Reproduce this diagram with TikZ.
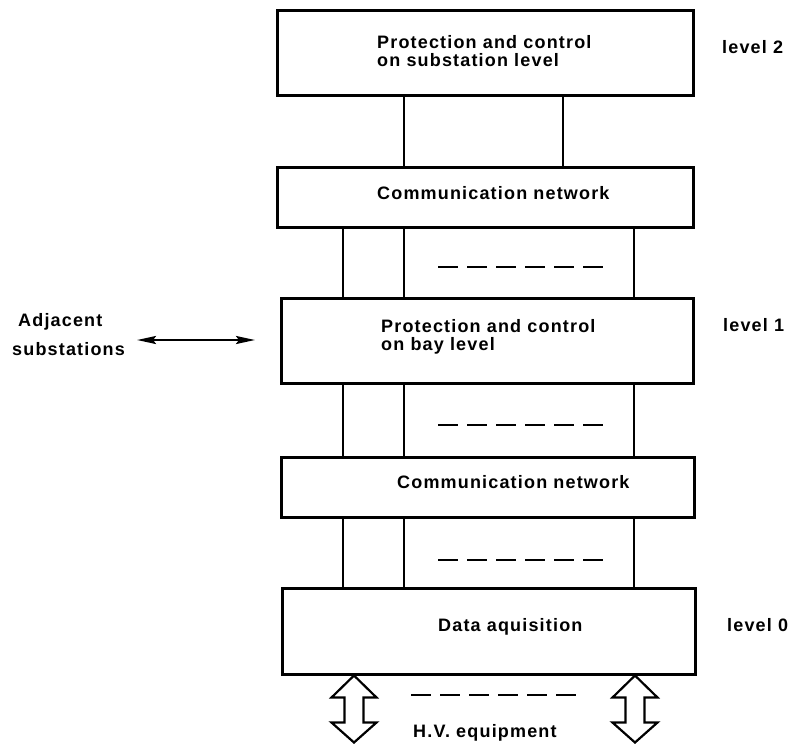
\documentclass[tikz,border=0pt]{standalone}
\usepackage{fontspec}
\setmainfont{Liberation Sans}[LetterSpace=6.5]
\usetikzlibrary{arrows.meta}
\begin{document}
\begin{tikzpicture}[x=1pt,y=-1pt,
  every node/.style={font=\fontsize{18}{18}\selectfont\bfseries},
  box/.style={draw, line width=3pt, rectangle, inner sep=0pt},
  txt/.style={inner sep=0pt, anchor=west, align=left},
  link/.style={line width=2.2pt},
  gapline/.style={line width=2.2pt, dash pattern=on 20pt off 9pt},
  >={Stealth[length=19pt,width=8pt,inset=3pt]},
  hvarrow/.pic={
    \draw[line width=2.2pt, line join=miter]
      (0,0) -- (22.5,22) -- (9.5,22) -- (9.5,47) -- (22.5,47) -- (0,67)
      -- (-22.5,47) -- (-9.5,47) -- (-9.5,22) -- (-22.5,22) -- cycle;
  }
]
\useasboundingbox (0,0) rectangle (795,748);

% the five layers
\node[box, minimum width=416pt, minimum height=85pt] (sub)  at (485,52.5) {};
\node[box, minimum width=416pt, minimum height=60pt] (net2) at (485,197) {};
\node[box, minimum width=412pt, minimum height=85pt] (bay)  at (487,340.5) {};
\node[box, minimum width=413pt, minimum height=60pt] (net1) at (487.5,487) {};
\node[box, minimum width=413pt, minimum height=86pt] (daq)  at (488.5,631) {};

% layer captions
\node[txt] (subT)  at (377,51.5) {Protection and control\\on substation level};
\node[txt] (net2T) at (377,193) {Communication network};
\node[txt] (bayT)  at (381,337) {Protection and control\\on bay level};
\node[txt] (net1T) at (397,482) {Communication network};
\node[txt] (daqT)  at (438,627) {Data aquisition};

% level labels
\node[txt] (lv2) at (722,47)  {level 2};
\node[txt] (lv1) at (723,325) {level 1};
\node[txt] (lv0) at (727,625) {level 0};

% vertical links between layers
\coordinate (xa) at (343,0);
\coordinate (xb) at (404,0);
\coordinate (xc) at (563,0);
\coordinate (xd) at (634,0);
\coordinate (xl) at (354,0);
\coordinate (xr) at (635,0);
\draw[link] (sub.south -| xb) -- (net2.north -| xb);
\draw[link] (sub.south -| xc) -- (net2.north -| xc);
\foreach \up/\dn in {net2/bay, bay/net1, net1/daq}{
  \draw[link] (\up.south -| xa) -- (\dn.north -| xa);
  \draw[link] (\up.south -| xb) -- (\dn.north -| xb);
  \draw[link] (\up.south -| xd) -- (\dn.north -| xd);
}

% further links indicated by dashes
\coordinate (g1a) at (438,267); \coordinate (g1b) at (603,267);
\coordinate (g2a) at (438,425); \coordinate (g2b) at (603,425);
\coordinate (g3a) at (438,560); \coordinate (g3b) at (603,560);
\coordinate (g4a) at (411,695); \coordinate (g4b) at (576,695);
\draw[gapline] (g1a) -- (g1b);
\draw[gapline] (g2a) -- (g2b);
\draw[gapline] (g3a) -- (g3b);
\draw[gapline] (g4a) -- (g4b);

% adjacent substations
\node[txt, font=\fontsize{18}{29}\selectfont\bfseries] (adj) at (12,335)
  {\hspace*{6pt}Adjacent\\substations};
\coordinate (adjL) at (137,340);
\coordinate (adjR) at (255,340);
\draw[link, <->] (adjL) -- (adjR);

% interface to the high-voltage equipment
\pic (hvL) at (daq.south -| xl) {hvarrow};
\pic (hvR) at (daq.south -| xr) {hvarrow};
\node[txt] (hv) at (413,733) {H.V. equipment};
\end{tikzpicture}
\end{document}
